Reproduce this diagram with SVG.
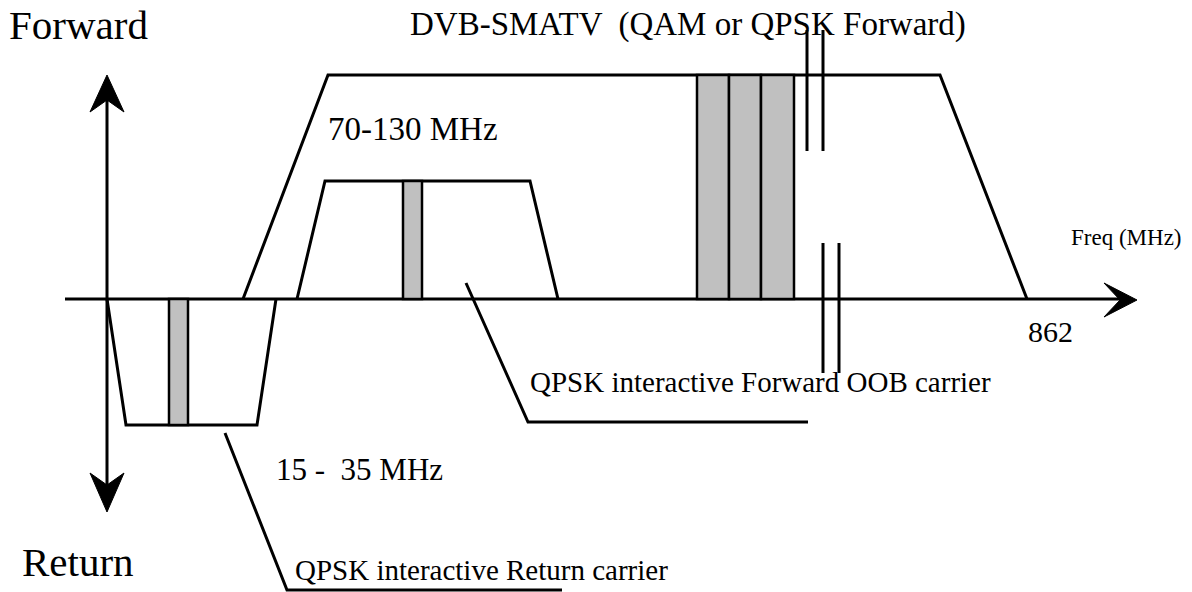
<svg xmlns="http://www.w3.org/2000/svg" width="1192" height="592" viewBox="0 0 1192 592">
<style>
text{font-family:"Liberation Serif","Times New Roman",serif;fill:#000;white-space:pre}
.ln{fill:none;stroke:#000;stroke-width:3;stroke-linejoin:miter}
.bar{fill:#c0c0c0;stroke:#000;stroke-width:2.5}
.ah{fill:#000;stroke:#000;stroke-width:1}
</style>
<rect width="1192" height="592" fill="#fff"/>
<g id="axes">
<line class="ln" x1="65" y1="299" x2="1125" y2="299"/>
<line class="ln" x1="107" y1="95" x2="107" y2="492"/>
<polygon class="ah" points="107,75 124,112 107,100 90,112"/>
<polygon class="ah" points="107,512 124,473 107,485 90,473"/>
<polygon class="ah" points="1137,300 1104,283 1120,300 1104,317"/>
</g>
<g id="dvb-band">
<path class="ln" d="M243,299 L328,75 L940,75 L1027,299"/>
<rect class="bar" x="697" y="75" width="32" height="224"/>
<rect class="bar" x="729" y="75" width="32" height="224"/>
<rect class="bar" x="761" y="75" width="33" height="224"/>
<line class="ln" x1="807" y1="30" x2="807" y2="151"/>
<line class="ln" x1="823" y1="30" x2="823" y2="151"/>
<line class="ln" x1="823" y1="243" x2="823" y2="373"/>
<line class="ln" x1="839" y1="243" x2="839" y2="373"/>
</g>
<g id="forward-oob-band">
<path class="ln" d="M297,299 L325,181 L530,181 L558,299"/>
<rect class="bar" x="403" y="181" width="19" height="118"/>
</g>
<g id="return-band">
<path class="ln" d="M107,299 L126,425 L257,425 L276,299"/>
<rect class="bar" x="169" y="299" width="19" height="126"/>
</g>
<g id="connectors">
<path class="ln" d="M466,283 L528,422 L808,422"/>
<path class="ln" d="M225,433 L287,590 L562,590"/>
</g>
<g id="labels">
<text x="9" y="39" font-size="41">Forward</text>
<text x="22" y="576" font-size="41">Return</text>
<text x="410" y="35" font-size="33">DVB-SMATV  (QAM or QPSK Forward)</text>
<text x="328" y="140" font-size="33">70-130 MHz</text>
<text x="1071" y="245" font-size="23">Freq (MHz)</text>
<text x="1028" y="342" font-size="30">862</text>
<text x="530" y="392" font-size="29">QPSK interactive Forward OOB carrier</text>
<text x="276" y="480" font-size="31">15 -  35 MHz</text>
<text x="295" y="580" font-size="29">QPSK interactive Return carrier</text>
</g>
</svg>
